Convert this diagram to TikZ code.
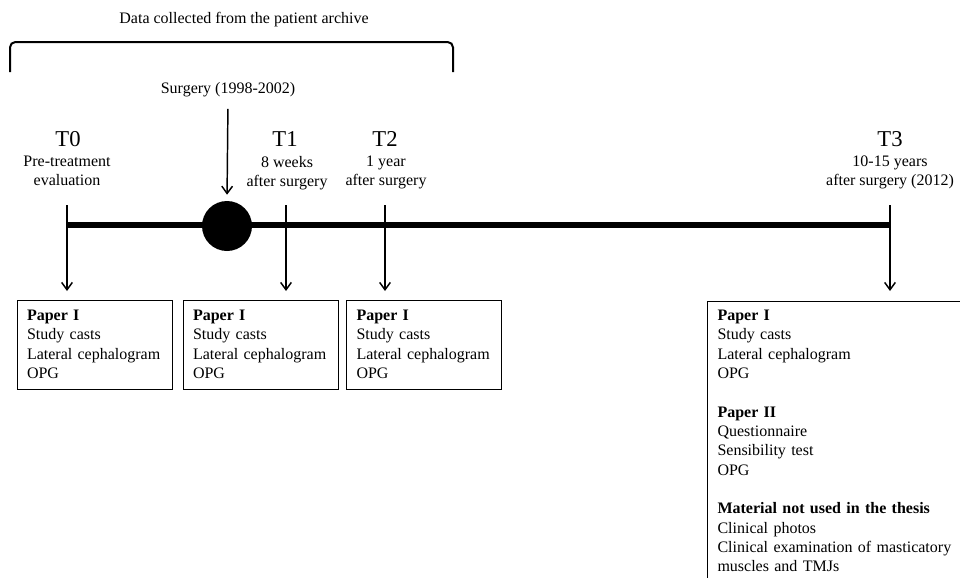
\documentclass[tikz,border=0pt]{standalone}
\usepackage{fontspec}
\setmainfont{Liberation Serif}
\usetikzlibrary{arrows.meta,positioning}

\begin{document}
\begin{tikzpicture}[>={Straight Barb[length=5.5pt,width=8pt]},x=0.75pt,y=-0.75pt,
    font=\fontsize{12}{14.5}\selectfont,
    tick/.style={->,line width=1.1pt},
    tname/.style={anchor=base,font=\fontsize{17}{20}\selectfont},
    tsub/.style={anchor=north,align=center,inner sep=0pt,font=\fontsize{12}{14.25}\selectfont},
    databox/.style={draw,line width=0.75pt,text width=101.25pt,inner xsep=7.5pt,align=left,minimum height=66.75pt}]

    \useasboundingbox (0,0) rectangle (960,578);

    % Archive bracket
    \node [anchor=base] (archive) at (244,23) {Data collected from the patient archive};
    \draw [line width=1.5pt,rounded corners=4pt] (10,72) -- (10,42) -- (453,42) -- (453,72);

    % Timeline
    \coordinate (start) at (67,225);
    \coordinate (stop) at (890,225);
    \draw [line width=5pt] (start) -- (stop);

    % Surgery
    \node [anchor=base] (surgery) at (228,93) {Surgery (1998-2002)};
    \node [circle,fill,minimum size=37.5pt,inner sep=0pt] (surgerydot) at (227,226) {};
    \draw [tick,shorten <=5.7pt,shorten >=4.5pt] (surgery.south) -- (surgerydot.north);

    % T0: pre-treatment
    \node [tname] (T0) at (68,146) {T0};
    \node [tsub] (T0sub) at (67,156) {Pre-treatment\\evaluation};
    \coordinate (T0top) at (67,205);
    \coordinate (T0end) at (67,291);
    \draw [tick] (T0top) -- (T0end);

    % T1: 8 weeks
    \node [tname] (T1) at (285,146) {T1};
    \node [tsub] (T1sub) at (287,156) {8 weeks\\after surgery};
    \coordinate (T1top) at (286,205);
    \coordinate (T1end) at (286,291);
    \draw [tick] (T1top) -- (T1end);

    % T2: 1 year
    \node [tname] (T2) at (385,146) {T2};
    \node [tsub] (T2sub) at (386,156) {1 year\\after surgery};
    \coordinate (T2top) at (385,205);
    \coordinate (T2end) at (385,291);
    \draw [tick] (T2top) -- (T2end);

    % T3: 10-15 years
    \node [tname] (T3) at (890,146) {T3};
    \node [tsub] (T3sub) at (890,156) {10-15 years\\after surgery (2012)};
    \coordinate (T3top) at (890,205);
    \coordinate (T3end) at (890,291);
    \draw [tick] (T3top) -- (T3end);

    % Material boxes
    \node [databox] (box0) at (94.5,344.5) {\textbf{Paper I}\\Study casts\\Lateral cephalogram\\OPG};
    \node [databox] (box1) at (260.5,344.5) {\textbf{Paper I}\\Study casts\\Lateral cephalogram\\OPG};
    \node [databox] (box2) at (424,344.5) {\textbf{Paper I}\\Study casts\\Lateral cephalogram\\OPG};
    \node [databox,draw=none,anchor=north west,text width=180pt,minimum height=0pt,inner ysep=6.3pt] (box3) at (707,301)
        {\textbf{Paper I}\\Study casts\\Lateral cephalogram\\OPG\\[14.5pt]
         \textbf{Paper II}\\Questionnaire\\Sensibility test\\OPG\\[14.5pt]
         \textbf{Material not used in the thesis}\\Clinical photos\\Clinical examination of masticatory\\muscles and TMJs};
    \draw [line width=0.75pt] (box3.north east) -- (box3.north west) -- (box3.north west |- 0,600);

\end{tikzpicture}
\end{document}
